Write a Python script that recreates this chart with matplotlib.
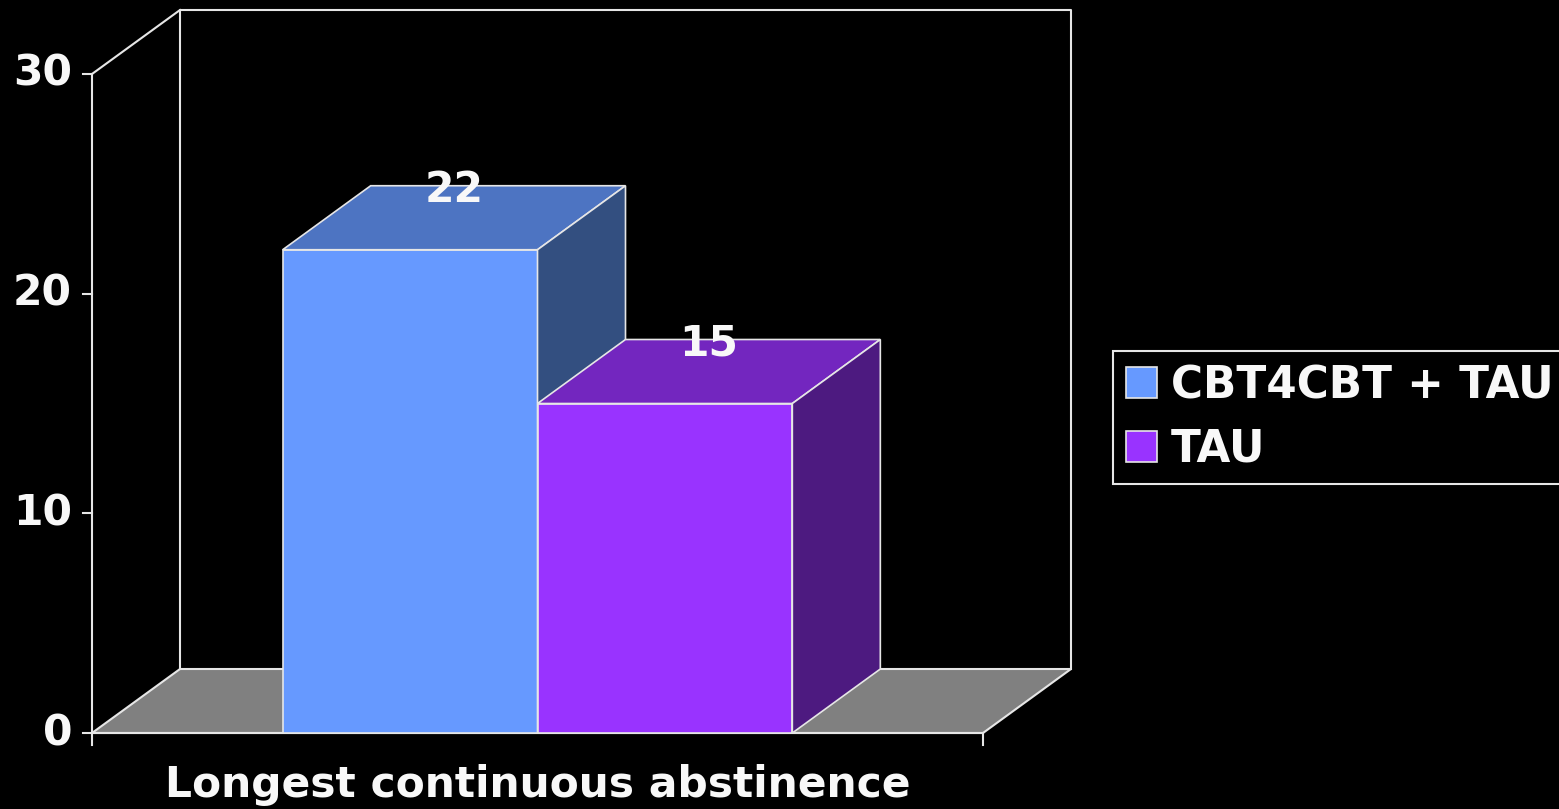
import matplotlib
matplotlib.use("Agg")
import matplotlib.pyplot as plt
from matplotlib.patches import Polygon

# data
groups = ["CBT4CBT + TAU", "TAU"]
values = [22, 15]
yticks = [0, 10, 20, 30]
category = "Longest continuous abstinence"

front_cols = ["#6699FF", "#9933FF"]
top_cols = ["#4D74C2", "#7326BF"]
side_cols = ["#334F80", "#4D1A80"]

FG = "#F8F8F8"
LINE = "#E6E6E6"
FONT = ["DejaVu Sans"]

W, H = 1559, 809
fig = plt.figure(figsize=(W / 100, H / 100), dpi=100, facecolor="black")
ax = fig.add_axes([0, 0, 1, 1])
ax.set_facecolor("black")
ax.axis("off")

# pixel mapping of the front plane: x 0..1 -> 92..983 px, y 0..30 -> 733..74 px
px_x = 891.0
px_y = (733 - 74) / 30.0
ax.set_xlim(-92 / px_x, (W - 92) / px_x)
ax.set_ylim(-(H - 733) / px_y, 733 / px_y)

ymax = yticks[-1]
dx = 88 / px_x      # depth offset
dy = 64 / px_y

# floor
floor = Polygon([(0, 0), (1, 0), (1 + dx, dy), (dx, dy)], closed=True,
                facecolor="#808080", edgecolor=LINE, lw=1.5, zorder=1)
ax.add_patch(floor)

# back walls
ax.plot([dx, dx, 1 + dx, 1 + dx], [dy, ymax + dy, ymax + dy, dy], color=LINE, lw=1.5, zorder=1)
ax.plot([0, dx], [ymax, ymax + dy], color=LINE, lw=1.5, zorder=1)

# axes lines and ticks
ax.plot([0, 0], [0, ymax], color=LINE, lw=1.5, zorder=2)
ax.plot([0, 1], [0, 0], color=LINE, lw=1.5, zorder=2)
for t in yticks:
    ax.plot([-9 / px_x, 0], [t, t], color=LINE, lw=1.5, zorder=2)
    ax.text(-20 / px_x, t, str(t), color=FG, fontsize=30.5, fontweight="bold",
            family=FONT, ha="right", va="center")
for xt in [0, 1]:
    ax.plot([xt, xt], [0, -12 / px_y], color=LINE, lw=1.5, zorder=2)

# 3d bars
width = 0.286
for i, v in enumerate(values):
    x0 = 0.5 + (i - 1) * width
    x1 = x0 + width
    z = 3 + i * 3
    ax.bar(x0, v, width=width, align="edge", color=front_cols[i],
           edgecolor=LINE, lw=1.2, zorder=z, label=groups[i])
    top = Polygon([(x0, v), (x1, v), (x1 + dx, v + dy), (x0 + dx, v + dy)],
                  closed=True, facecolor=top_cols[i], edgecolor=LINE, lw=1.2, zorder=z)
    side = Polygon([(x1, 0), (x1 + dx, dy), (x1 + dx, v + dy), (x1, v)],
                   closed=True, facecolor=side_cols[i], edgecolor=LINE, lw=1.2, zorder=z)
    ax.add_patch(top)
    ax.add_patch(side)
    ax.text(x0 + width / 2 + dx / 2, v + dy - 0.2, str(v), color=FG, fontsize=30.5,
            fontweight="bold", family=FONT, ha="center", va="center", zorder=10)

ax.text(0.5, -2.35, category, color=FG, fontsize=30.5, fontweight="bold",
        family=FONT, ha="center", va="center")

leg = ax.legend(loc="upper left", bbox_to_anchor=(1113 / W, 1 - 351 / H),
                bbox_transform=fig.transFigure, frameon=True, fancybox=False,
                facecolor="black", edgecolor=LINE, framealpha=1,
                prop={"family": FONT, "weight": "bold", "size": 31.5},
                handlelength=0.71, handleheight=0.71, handletextpad=0.32,
                labelspacing=0.47, borderpad=0.3, borderaxespad=0)
for txt in leg.get_texts():
    txt.set_color(FG)
leg.get_frame().set_linewidth(1.5)

fig.savefig("out.png", dpi=100, facecolor="black")
